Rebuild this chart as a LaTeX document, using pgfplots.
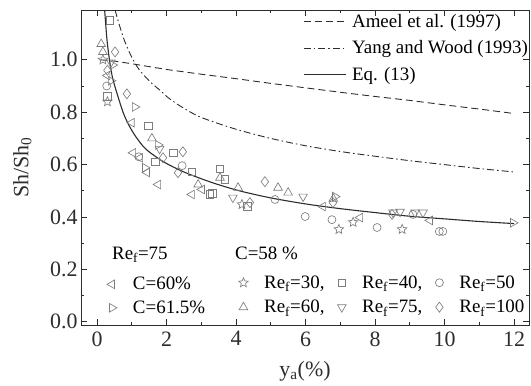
\documentclass[border=0pt]{standalone}
\usepackage{fontspec}
\setmainfont{Liberation Serif}
\usepackage{pgfplots}
\pgfplotsset{compat=1.18}
\definecolor{mk}{RGB}{125,125,125}
\definecolor{ln}{RGB}{45,45,45}
\pgfdeclareplotmark{ostar}{%
  \pgfpathmoveto{\pgfpointpolar{90}{\pgfplotmarksize}}%
  \pgfpathlineto{\pgfpointpolar{126}{0.45\pgfplotmarksize}}%
  \pgfpathlineto{\pgfpointpolar{162}{\pgfplotmarksize}}%
  \pgfpathlineto{\pgfpointpolar{198}{0.45\pgfplotmarksize}}%
  \pgfpathlineto{\pgfpointpolar{234}{\pgfplotmarksize}}%
  \pgfpathlineto{\pgfpointpolar{270}{0.45\pgfplotmarksize}}%
  \pgfpathlineto{\pgfpointpolar{306}{\pgfplotmarksize}}%
  \pgfpathlineto{\pgfpointpolar{342}{0.45\pgfplotmarksize}}%
  \pgfpathlineto{\pgfpointpolar{18}{\pgfplotmarksize}}%
  \pgfpathlineto{\pgfpointpolar{54}{0.45\pgfplotmarksize}}%
  \pgfpathclose\pgfusepathqstroke}
\pgfplotsset{
  base/.style={width=448bp, height=315bp, scale only axis,
    xmin=-0.46, xmax=12.43, ymin=-0.012, ymax=1.19,
    anchor=south west, at={(0bp,0bp)}},
  sc/.style={only marks, mark size=#1,
    legend image code/.code={\draw[##1] plot coordinates {(0bp,1bp)};}},
  mo/.style={mark options={solid, draw=mk, fill=none, line width=0.65bp, rotate=#1}},
  mleg/.style={draw=none, fill=none, inner sep=0pt, outer sep=0pt,
    font=\fontsize{19}{21}\selectfont,
    nodes={inner sep=0pt, text height=13bp, text depth=4bp}},
}
\begin{document}
\begin{tikzpicture}
\useasboundingbox (-81bp,-61bp) rectangle (450bp,325bp);
% ---------- main axis with model curves ----------
\begin{axis}[base,
  axis line style={line width=0.8bp, draw=ln},
  xtick={0,2,4,6,8,10,12}, ytick={0,0.2,0.4,0.6,0.8,1.0},
  minor x tick num=1, minor y tick num=1,
  tick align=inside, major tick length=6bp, minor tick length=3.5bp,
  every tick/.style={line width=0.8bp, draw=ln},
  xtick pos=both, ytick pos=both,
  /pgf/number format/assume math mode=true,
  ticklabel style={font=\fontsize{22}{24}\selectfont, text=ln},
  yticklabel style={/pgf/number format/fixed, /pgf/number format/fixed zerofill, /pgf/number format/precision=1},
  xticklabel style={yshift=-3bp},
  xticklabel={\pgfmathprintnumber[fixed,precision=0]{\tick}},
  xlabel={y\textsubscript{a}(\%)}, ylabel={Sh/Sh\textsubscript{0}},
  label style={font=\fontsize{22}{24}\selectfont, text=ln},
  xlabel style={at={(axis description cs:0.5,-0.148)}, anchor=center},
  ylabel style={at={(axis description cs:-0.131,0.5)}, anchor=center},
  legend style={mleg, at={(axis description cs:0.4955,0.986)}, anchor=north west,
    row sep=9.5bp, /tikz/every odd column/.append style={column sep=6bp}},
  legend cell align=left,
  legend image code/.code={\draw[#1] (0bp,1bp) -- (42bp,1bp);},
]
\addplot[ln, line width=0.9bp, dash pattern=on 7bp off 4bp] coordinates {
 (0.1,1.0) (0.5,0.995) (1,0.985) (2,0.963) (3,0.945) (4,0.928) (5,0.91) (6,0.893)
 (7,0.876) (8,0.86) (9,0.845) (10,0.828) (11,0.812) (12,0.795)};
\addlegendentry{Ameel et al. (1997)}
\addplot[ln, line width=0.9bp, smooth, dash pattern=on 7bp off 3bp on 1.5bp off 3bp] coordinates {
 (0.52,1.19) (0.65,1.13) (0.8,1.07) (1.0,1.01) (1.2,0.965) (1.5,0.92) (1.8,0.885)
 (2.1,0.85) (2.5,0.815) (3,0.78) (4,0.735) (5,0.70) (6,0.672) (7,0.65) (8,0.632)
 (9,0.615) (10,0.60) (11,0.585) (12,0.572)};
\addlegendentry{Yang and Wood (1993)}
\addplot[ln, line width=1.1bp, smooth] coordinates {
 (0.22,1.19) (0.26,1.12) (0.3,1.06) (0.37,0.99) (0.45,0.93) (0.58,0.87) (0.75,0.80)
 (0.9,0.755) (1.1,0.71) (1.4,0.66) (1.9,0.612) (2.5,0.572) (3.3,0.532) (4.1,0.50)
 (5,0.473) (6,0.45) (7,0.432) (8,0.417) (9,0.403) (10,0.393) (11,0.383) (12,0.375)};
\addlegendentry{Eq. (13)}
\end{axis}
% ---------- Re_f = 75 series ----------
\begin{axis}[base, hide axis,
  legend style={mleg, at={(axis description cs:0.058,0.153)}, anchor=north west,
    row sep=6.5bp, /tikz/every odd column/.append style={column sep=16bp}},
  legend cell align=left]
\addplot[sc=5bp, mark=triangle, mo=90] coordinates {
 (0.30,0.94) (1.00,0.76) (1.04,0.645) (1.24,0.626) (1.44,0.57) (1.76,0.524)
 (2.73,0.486) (3.02,0.505) (6.50,0.44) (7.57,0.398) (9.58,0.387)};
\addlegendentry{C=60\%}
\addplot[sc=5bp, mark=triangle, mo=-90] coordinates {
 (0.40,0.92) (0.45,0.98) (1.09,0.82) (1.38,0.588) (1.76,0.675) (6.85,0.478) (11.97,0.378)};
\addlegendentry{C=61.5\%}
\node[anchor=base west, inner sep=0pt, font=\fontsize{19}{21}\selectfont] at (axis cs:0.43,0.238) {Re\textsubscript{f}=75};
\end{axis}
% ---------- C = 58 % series ----------
\begin{axis}[base, hide axis,
  legend columns=3,
  legend style={mleg, at={(axis description cs:0.352,0.158)}, anchor=north west,
    row sep=7.5bp, /tikz/every odd column/.append style={column sep=16bp},
    /tikz/every even column/.append style={column sep=13bp}},
  legend cell align=left]
\addplot[sc=5bp, mark=ostar, mo=0] coordinates {
 (0.17,1.00) (0.30,0.84) (4.17,0.448) (6.96,0.353) (7.37,0.38) (8.78,0.353)};
\addlegendentry{Re\textsubscript{f}=30,}
\addplot[sc=3.8bp, mark=square, mo=0] coordinates {
 (0.37,1.15) (0.30,0.86) (1.47,0.748) (1.67,0.61) (2.19,0.645) (2.73,0.573)
 (3.25,0.486) (3.31,0.49) (3.54,0.584) (3.68,0.543) (4.32,0.44)};
\addlegendentry{Re\textsubscript{f}=40,}
\addplot[sc=4bp, mark=o, mo=0] coordinates {
 (0.28,0.90) (1.20,0.63) (2.45,0.596) (5.12,0.467) (5.99,0.402) (6.76,0.39)
 (8.06,0.36) (9.09,0.41) (9.85,0.345) (9.95,0.345)};
\addlegendentry{Re\textsubscript{f}=50}
\addplot[sc=5bp, mark=triangle, mo=0] coordinates {
 (0.12,1.06) (0.17,1.03) (1.58,0.70) (2.91,0.524) (3.54,0.55) (4.06,0.512)
 (5.21,0.512) (5.50,0.493) (6.80,0.47)};
\addlegendentry{Re\textsubscript{f}=60,}
\addplot[sc=5bp, mark=triangle, mo=180] coordinates {
 (0.40,0.99) (1.80,0.66) (3.91,0.474) (5.93,0.478) (8.52,0.417) (8.72,0.42)
 (9.15,0.417) (9.38,0.417)};
\addlegendentry{Re\textsubscript{f}=75,}
\addplot[sc=5bp, mark=diamond, mo=0] coordinates {
 (0.30,0.96) (0.52,1.03) (0.86,0.87) (1.90,0.626) (2.33,0.569) (2.47,0.649)
 (4.40,0.455) (4.83,0.535) (6.79,0.455) (8.49,0.41)};
\addlegendentry{Re\textsubscript{f}=100}
\node[anchor=base west, inner sep=0pt, font=\fontsize{19}{21}\selectfont] at (axis cs:3.97,0.238) {C=58 \%};
\end{axis}
\end{tikzpicture}
\end{document}
